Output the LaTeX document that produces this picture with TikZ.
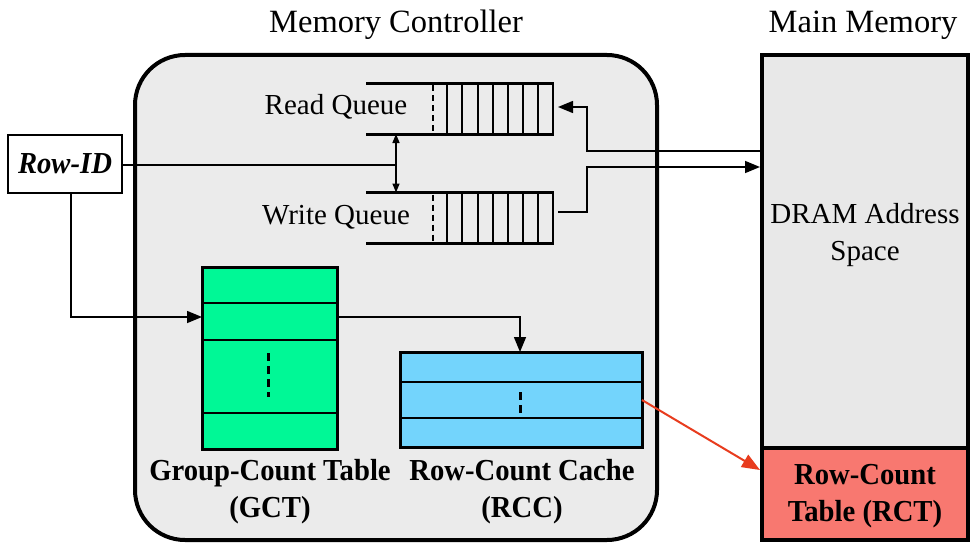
\documentclass[tikz,border=0pt]{standalone}
\usepackage{fontspec}
\setmainfont{Liberation Serif}
\newfontfamily\condserif[FakeStretch=0.94]{Liberation Serif}
\usetikzlibrary{arrows.meta,calc}
\definecolor{mcgray}{RGB}{235,235,235}
\definecolor{mmgray}{RGB}{232,232,232}
\definecolor{gctgreen}{RGB}{0,248,150}
\definecolor{rccblue}{RGB}{115,212,252}
\definecolor{rctred}{RGB}{248,120,112}
\definecolor{arrred}{RGB}{232,60,30}
\begin{document}
\begin{tikzpicture}[x=1pt,y=-1pt,
  title/.style={font=\fontsize{32.5}{36}\selectfont, inner sep=0},
  lbl/.style={font=\fontsize{29}{37}\selectfont, inner sep=0, align=center},
  blbl/.style={font=\condserif\fontsize{30.5}{37}\selectfont\bfseries, inner sep=0, align=center},
  box/.style={draw, line width=3pt, inner sep=0, outer sep=0},
  qbox/.style={inner sep=0, outer sep=0, minimum width=188pt, minimum height=51pt},
  qline/.style={line width=3pt},
  cell/.style={line width=2pt},
  inner/.style={line width=2pt},
  conn/.style={line width=1.5pt},
  tip/.style={-{Triangle[length=15pt,width=12pt]}},
  dtip/.style={{Triangle[length=9pt,width=7pt]}-{Triangle[length=9pt,width=7pt]}},
  dots/.style={line width=3pt, dash pattern=on 8pt off 5pt}
]
\path[use as bounding box, fill=white] (0,0) rectangle (971,543);

% titles
\node[title] (mctitle) at (396,25) {Memory Controller};
\node[title] (mmtitle) at (863,25) {Main Memory};

% memory controller
\node[draw, line width=4pt, fill=mcgray, rounded corners=50pt, inner sep=0,
      minimum width=522pt, minimum height=485pt] (mc) at (396,297.5) {};

% main memory and RCT
\node[draw, line width=4pt, fill=mmgray, inner sep=0,
      minimum width=206pt, minimum height=393pt] (mm) at (865,251.5) {};
\node[lbl] (dram) at (865,235) {DRAM Address\\Space};
\node[draw, line width=4pt, fill=rctred, inner sep=0,
      minimum width=206pt, minimum height=92pt] (rct) at (865,494) {};
\node[blbl] (rcttxt) at (865,496) {Row-Count\\Table (RCT)};

% Row-ID
\node[draw, line width=1.5pt, fill=white, inner sep=0,
      minimum width=114pt, minimum height=58pt,
      font=\condserif\fontsize{30.5}{34}\selectfont\bfseries\itshape] (rowid) at (65,164) {Row-ID};

% queues
\node[qbox] (rq) at (460,108.5) {};
\node[qbox] (wq) at (460,218) {};
\node[lbl] (rqtxt) at (336,107) {Read Queue};
\node[lbl] (wqtxt) at (336,217) {Write Queue};
\foreach \q in {rq,wq}{
  \draw[qline] (\q.north west) -- (\q.north east);
  \draw[qline] (\q.south west) -- (\q.south east);
  \draw[cell] ([xshift=-1pt]\q.north east) -- ([xshift=-1pt]\q.south east);
  \foreach \xx in {447,462,477.5,493,508,523,538}{
    \draw[cell] (\q.north west -| \xx,0) -- (\q.south west -| \xx,0);
  }
  \draw[line width=1.2pt, dash pattern=on 6pt off 4pt]
    ([yshift=-2pt]\q.north west -| 433,0) -- (\q.south west -| 433,0);
}

% GCT
\node[box, fill=gctgreen, minimum width=135pt, minimum height=182pt] (gct) at (269.5,358) {};
\draw[inner] (gct.west |- 0,303) -- (gct.east |- 0,303);
\draw[inner] (gct.west |- 0,340) -- (gct.east |- 0,340);
\draw[inner] (gct.west |- 0,413) -- (gct.east |- 0,413);
\draw[dots] (268,353) -- (268,397);
\node[blbl] (gcttxt) at (270,492) {Group-Count Table\\(GCT)};

% RCC
\node[box, fill=rccblue, minimum width=242pt, minimum height=95pt] (rcc) at (521,399.5) {};
\draw[inner] (rcc.west |- 0,382) -- (rcc.east |- 0,382);
\draw[inner] (rcc.west |- 0,418) -- (rcc.east |- 0,418);
\draw[dots] (520,392) -- (520,414);
\node[blbl] (rcctxt) at (522,492) {Row-Count Cache\\(RCC)};

% connectors
\coordinate (j) at (396,165);
\draw[conn] (rowid.east |- j) -- (j);
\draw[conn, dtip] (rq.south -| j) -- (wq.north -| j);

\coordinate (c1) at (71,317);
\draw[conn, tip] (c1 |- rowid.south) -- (c1) -- (c1 -| gct.west);

\coordinate (c2) at (520,317);
\draw[conn, tip] (c2 -| gct.east) -- (c2) -- (rcc.north -| c2);

\coordinate (c3) at (587,151);
\coordinate (c4) at (587,107);
\draw[conn, tip] (c3 -| mm.west) -- (c3) -- (c4) -- ([xshift=4pt]rq.east |- c4);

\coordinate (c5) at (587,212);
\coordinate (c6) at (587,167);
\draw[conn, tip] ([xshift=4pt]wq.east |- c5) -- (c5) -- (c6) -- (c6 -| mm.west);

\coordinate (c7) at (642,400);
\draw[line width=2pt, arrred, -{Triangle[length=18pt,width=14pt]}] (c7) -- (rct.west |- 0,470);
\end{tikzpicture}
\end{document}
